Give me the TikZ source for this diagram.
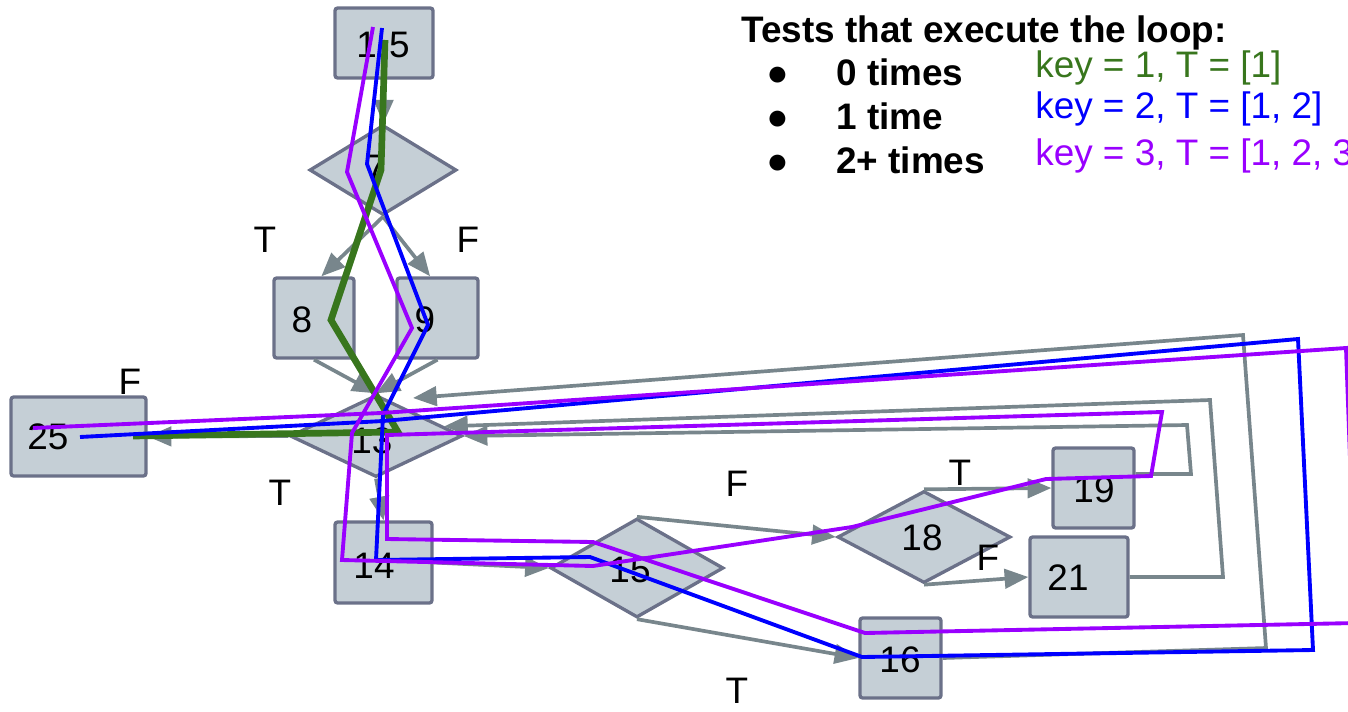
\documentclass[tikz,border=0pt]{standalone}
\usepackage{fontspec}
\setmainfont{Liberation Sans}
\usetikzlibrary{shapes.geometric,arrows.meta}
\definecolor{boxfill}{HTML}{C5CFD6}
\definecolor{boxline}{HTML}{6B7189}
\definecolor{edgegray}{HTML}{78868C}
\definecolor{keygreen}{HTML}{38761D}
\definecolor{keyblue}{HTML}{0000FF}
\definecolor{keypurple}{HTML}{9900FF}

\begin{document}
\begin{tikzpicture}[x=0.02cm, y=-0.02cm,
    stmt/.style 2 args={draw=boxline, fill=boxfill, line width=1.9pt, rounded corners=1.5pt,
      minimum width=#1*0.02cm, minimum height=#2*0.02cm, inner sep=0pt},
    cond/.style 2 args={diamond, draw=boxline, fill=boxfill, line width=1.9pt,
      minimum width=#1*0.02cm, minimum height=#2*0.02cm, inner sep=0pt},
    num/.style={font=\fontsize{21}{25}\selectfont, inner sep=0pt},
    flow/.style={draw=edgegray, line width=2.1pt, -{Triangle[length=13.5pt,width=11pt]}},
    keyzero/.style={draw=keygreen, line width=3.8pt},
    keyone/.style={draw=keyblue, line width=2.2pt},
    keytwo/.style={draw=keypurple, line width=2.2pt},
    legend/.style={font=\fontsize{21}{25}\selectfont, inner sep=0pt, anchor=base west}]
      \useasboundingbox (0,0) rectangle (1348,711);
      \clip (0,0) rectangle (1348,711);

      % statements and tests of the flow graph
      \node[stmt={98}{70}] (b1to5) at (384,43) {};
      \node[cond={147}{90}] (d7) at (383,170) {};
      \node[stmt={80}{80}] (b8) at (314,318) {};
      \node[stmt={81}{80}] (b9) at (437.5,318) {};
      \node[cond={172}{82}] (d13) at (376,436) {};
      \node[stmt={135}{79}] (b25) at (78.5,436.5) {};
      \node[stmt={97}{81}] (b14) at (383.5,562.5) {};
      \node[cond={173}{99}] (d15) at (637,568) {};
      \node[cond={173}{92}] (d18) at (924,537) {};
      \node[stmt={81}{80}] (b19) at (1093.5,488) {};
      \node[stmt={98}{80}] (b21) at (1079,577) {};
      \node[stmt={81}{80}] (b16) at (900.5,658) {};

      \node[num] (t1to5) at (383,45) {1-5};
      \node[num] (t7) at (376,168) {7};
      \node[num] (t8) at (302,320) {8};
      \node[num] (t9) at (425,320) {9};
      \node[num] (t13) at (372,441) {13};
      \node[num] (t25) at (48,437) {25};
      \node[num] (t14) at (374,566) {14};
      \node[num] (t15) at (630,570) {15};
      \node[num] (t16) at (900,660) {16};
      \node[num] (t18) at (922,538) {18};
      \node[num] (t19) at (1094,490) {19};
      \node[num] (t21) at (1068,578) {21};

      \node[num] (l7T) at (265,240) {T};
      \node[num] (l7F) at (468,240) {F};
      \node[num] (l13F) at (130,382) {F};
      \node[num] (l13T) at (280,493) {T};
      \node[num] (l15F) at (737,484) {F};
      \node[num] (l15T) at (737,691) {T};
      \node[num] (l18T) at (960,473) {T};
      \node[num] (l18F) at (988,558) {F};

      \draw[flow] (b1to5) -- (d7);
      \draw[flow] (d7.south) -- (b8.80);
      \draw[flow] (d7.south) -- (b9.100);
      \draw[flow] (b8.south) -- (d13.north);
      \draw[flow] (b9.south) -- (d13.north);
      \draw[flow] (d13.west) -- (b25.east);
      \draw[flow] (d13.south) -- (b14.north);
      \draw[flow] (b14.east) -- (d15.west);
      \draw[flow] (d15.north) -- (d18.west);
      \draw[flow] (d15.south) -- (b16.west);
      \draw[flow] (d18.north) -- (b19.west);
      \draw[flow] (d18.south) -- (b21.west);

      % back edges to the loop test
      \coordinate (A1) at (1191,474);
      \coordinate (A2) at (1187,425);
      \coordinate (B1) at (1223,577);
      \coordinate (B2) at (1210,400);
      \coordinate (C1) at (1266,648);
      \coordinate (C2) at (1243,335);
      \coordinate (in13) at (413,398);
      \draw[flow] (b19.east |- A1) -- (A1) -- (A2) -- (d13.east);
      \draw[flow] (b21.east) -- (B1) -- (B2) -- (d13.8);
      \draw[flow] (b16.east) -- (C1) -- (C2) -- (in13);

      % key = 1
      \coordinate (G1) at (385,40);
      \coordinate (G2) at (381,170);
      \coordinate (G3) at (331,320);
      \coordinate (G4) at (398,432);
      \coordinate (G5) at (133,436);
      \draw[keyzero] (G1) -- (G2) -- (G3) -- (G4) -- (G5);

      % key = 2
      \coordinate (U1) at (382,28);
      \coordinate (U2) at (367,164);
      \coordinate (U3) at (428,325);
      \coordinate (U4) at (383,415);
      \coordinate (U5) at (376,560);
      \coordinate (U6) at (590,557);
      \coordinate (U7) at (862,657);
      \coordinate (U8) at (1313,650);
      \coordinate (U9) at (1298,339);
      \coordinate (U10) at (383,421);
      \coordinate (U11) at (80,437);
      \draw[keyone] (U1) -- (U2) -- (U3) -- (U4) -- (U5) -- (U6) -- (U7) -- (U8)
        -- (U9) -- (U10) -- (U11);

      % key = 3
      \coordinate (P1) at (373,27);
      \coordinate (P2) at (347,172);
      \coordinate (P3) at (412,328);
      \coordinate (P4) at (352,433);
      \coordinate (P5) at (342,560);
      \coordinate (P6) at (593,566);
      \coordinate (P7) at (852,527);
      \coordinate (P8) at (1046,479);
      \coordinate (P9) at (1151,476);
      \coordinate (P10) at (1162,412);
      \coordinate (P11) at (387,435);
      \coordinate (P12) at (387,539);
      \coordinate (P13) at (593,542);
      \coordinate (P14) at (865,633);
      \coordinate (P15) at (1356,623);
      \coordinate (P16) at (1346,348);
      \coordinate (P17) at (381,413);
      \coordinate (P18) at (33,428);
      \draw[keytwo] (P1) -- (P2) -- (P3) -- (P4) -- (P5) -- (P6) -- (P7) -- (P8) -- (P9)
        -- (P10) -- (P11) -- (P12) -- (P13) -- (P14) -- (P15) -- (P16) -- (P17) -- (P18);

      % legend
      \node[legend, font=\fontsize{21}{25}\selectfont\bfseries] (title) at (741,42) {Tests that execute the loop:};
      \node[legend] (dot0) at (766,85) {●};
      \node[legend] (dot1) at (766,129) {●};
      \node[legend] (dot2) at (766,173) {●};
      \node[legend, font=\fontsize{21}{25}\selectfont\bfseries] (times0) at (836,85) {0 times};
      \node[legend, font=\fontsize{21}{25}\selectfont\bfseries] (times1) at (836,129) {1 time};
      \node[legend, font=\fontsize{21}{25}\selectfont\bfseries] (times2) at (836,173) {2+ times};
      \node[legend, text=keygreen] (key1) at (1035,77) {key = 1, T = [1]};
      \node[legend, text=keyblue] (key2) at (1035,118) {key = 2, T = [1, 2]};
      \node[legend, text=keypurple] (key3) at (1035,165) {key = 3, T = [1, 2, 3]};
\end{tikzpicture}
\end{document}
